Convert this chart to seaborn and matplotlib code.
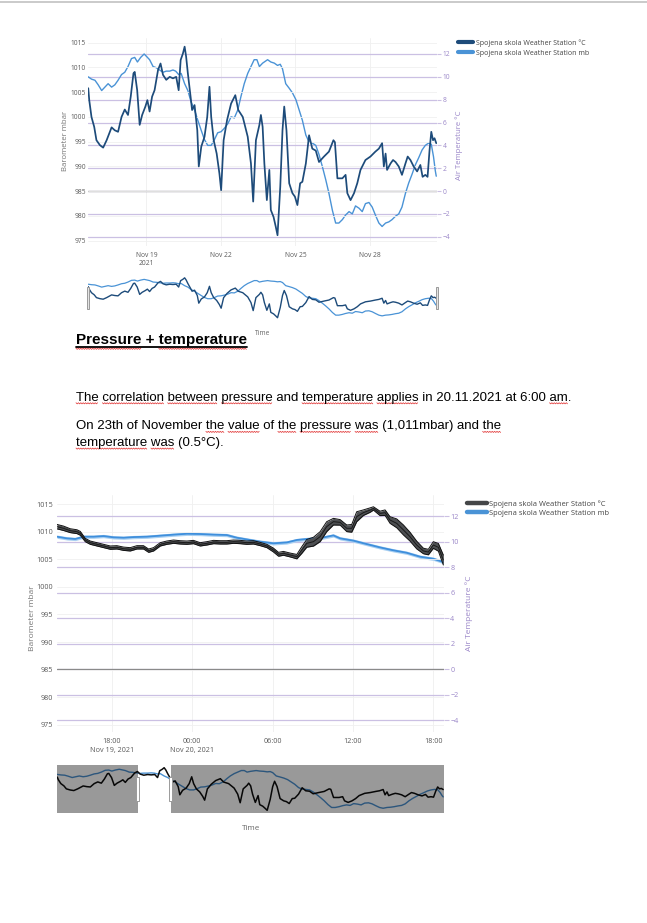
import numpy as np
import pandas as pd
import matplotlib
matplotlib.use("Agg")
import matplotlib.pyplot as plt
import matplotlib.transforms as mtransforms
import seaborn as sns
from matplotlib.lines import Line2D
from matplotlib.patches import Rectangle

# ---------------- data ----------------
# Chart 1 (Nov 16 - Nov 30, x = day of November)
dark_days = [16.66,16.70,16.79,16.90,16.99,17.13,17.26,17.40,17.60,17.73,17.86,18.00,18.13,18.26,18.37,18.48,18.53,18.63,18.73,18.83,
             18.96,19.04,19.13,19.23,19.33,19.47,19.57,19.67,19.80,19.94,20.07,20.20,20.30,20.38,20.47,20.54,20.60,20.67,20.78,20.84,
             20.94,21.05,21.11,21.21,21.34,21.45,21.54,21.61,21.71,21.83,21.94,22.01,22.11,22.25,22.41,22.58,22.70,22.88,23.08,23.21,
             23.30,23.41,23.55,23.61,23.68,23.75,23.85,23.95,24.01,24.12,24.21,24.28,24.39,24.48,24.55,24.64,24.75,24.88,24.98,25.08,
             25.19,25.28,25.42,25.55,25.68,25.82,25.95,26.15,26.35,26.53,26.59,26.69,26.89,27.02,27.09,27.22,27.36,27.49,27.62,27.82,
             28.02,28.22,28.36,28.49,28.56,28.63,28.69,28.83,28.93,29.03,29.16,29.29,29.43,29.52,29.63,29.76,29.90,30.03,30.12,30.23,
             30.32,30.40,30.47,30.54,30.60,30.67]
dark_mbar = [1005.8,1003.4,1000.0,998.0,995.3,994.3,993.8,995.3,997.9,997.3,997.0,1000.0,1001.5,1000.4,1004.1,1008.8,1009.1,1005.4,998.4,1000.4,
             1002.1,1003.4,1001.1,1004.1,1005.4,1009.5,1010.8,1008.5,1007.5,1008.1,1007.8,1008.1,1005.4,1011.5,1012.8,1014.2,1012.2,1008.8,1004.1,1001.4,
             1002.4,997.3,990.0,994.0,996.0,1000.0,1006.1,1000.0,995.3,992.6,988.6,985.2,995.3,999.4,1002.7,1004.4,1001.4,1000.0,996.0,990.6,
             982.9,995.3,998.4,1000.4,998.0,990.6,983.2,989.3,981.2,979.8,977.8,976.1,985.9,997.3,1002.1,997.3,986.6,984.6,983.9,982.2,
             986.6,986.9,990.6,996.3,993.6,993.2,990.9,992.0,993.0,995.3,994.9,987.6,987.6,988.3,984.6,983.2,984.6,986.6,989.3,991.3,
             992.0,993.0,993.6,994.7,990.0,992.6,989.3,990.6,991.3,990.9,990.0,988.3,990.6,992.0,991.3,990.0,989.0,990.3,987.9,988.3,
             987.9,993.3,997.0,995.3,995.7,994.7]
light_days = [16.66,16.79,16.93,17.06,17.20,17.33,17.46,17.60,17.73,17.86,18.00,18.13,18.26,18.40,18.53,18.64,18.77,18.91,19.00,19.13,
              19.27,19.40,19.53,19.67,19.80,19.94,20.07,20.18,20.30,20.40,20.54,20.67,20.80,20.94,21.07,21.21,21.34,21.47,21.61,21.74,
              21.87,22.01,22.14,22.28,22.41,22.54,22.68,22.81,22.94,23.08,23.21,23.34,23.45,23.55,23.68,23.88,24.01,24.15,24.28,24.39,
              24.48,24.61,24.75,24.88,25.02,25.15,25.28,25.42,25.55,25.68,25.82,25.95,26.09,26.22,26.35,26.49,26.62,26.75,26.89,27.02,
              27.16,27.29,27.42,27.56,27.69,27.82,27.96,28.09,28.22,28.36,28.49,28.63,28.76,28.89,29.03,29.16,29.29,29.43,29.56,29.70,
              29.83,29.96,30.10,30.23,30.36,30.47,30.56,30.63,30.67]
light_temp = [10.0,9.8,9.7,9.3,8.8,9.1,9.4,9.1,9.3,9.7,10.2,10.4,10.9,11.6,11.7,11.3,11.7,12.0,11.8,11.5,
              10.9,10.8,10.6,10.4,10.5,10.5,10.6,10.5,10.2,10.3,9.4,8.8,7.8,7.1,6.2,5.3,4.5,4.0,4.0,4.5,
              5.1,5.2,5.5,5.9,6.5,6.4,7.1,8.3,9.4,10.3,10.9,11.5,11.5,10.9,11.2,11.5,11.3,11.2,11.0,11.1,
              10.7,9.4,9.0,8.6,8.0,7.1,6.2,4.9,4.3,4.2,4.0,3.2,2.1,1.0,-0.2,-1.7,-2.8,-2.8,-2.5,-2.1,
              -1.8,-2.0,-1.3,-1.5,-1.8,-1.1,-1.0,-1.4,-2.1,-2.8,-3.1,-2.8,-2.7,-2.5,-2.2,-2.0,-1.4,-0.2,0.7,1.5,
              2.3,2.9,3.6,4.0,4.2,4.1,3.0,1.8,1.3]

# Chart 2 (zoom: hours since Nov 19 00:00)
zoom_hours = [13.90,14.39,14.89,15.39,15.64,16.01,16.38,16.88,17.38,17.88,18.37,18.87,19.37,19.87,20.36,20.74,21.11,21.61,22.10,22.60,
              23.10,23.60,24.09,24.59,25.09,25.59,26.08,26.58,27.08,27.58,28.07,28.57,29.07,29.57,30.06,30.44,30.81,31.31,31.81,32.18,
              32.55,33.05,33.55,34.04,34.54,35.04,35.54,35.91,36.28,36.78,37.28,37.53,38.02,38.40,38.77,39.27,39.77,40.26,40.76,41.26,
              41.63,42.00,42.38,42.75]
zoom_mbar = [1010.9,1010.6,1010.17,1009.99,1009.69,1008.48,1008.0,1007.7,1007.4,1007.1,1007.16,1006.9,1006.8,1007.16,1007.16,1006.55,1006.8,1007.7,1008.0,1008.18,
             1008.06,1008.0,1008.12,1007.7,1007.88,1008.12,1008.06,1008.06,1008.18,1008.12,1008.0,1008.06,1007.76,1007.4,1006.67,1005.9,1006.07,1005.77,1005.47,1006.67,
             1007.88,1008.18,1009.09,1010.9,1011.8,1011.68,1010.6,1010.6,1012.7,1013.43,1013.9,1014.2,1013.3,1013.43,1012.1,1011.5,1010.3,1009.09,1007.58,1006.5,
             1006.3,1007.58,1007.16,1004.86]
zoom_mbar_spread = [0.4,0.4,0.35,0.35,0.35,0.3,0.3,0.3,0.3,0.3,0.3,0.3,0.3,0.3,0.3,0.3,0.3,0.3,0.3,0.3,
                    0.3,0.3,0.3,0.3,0.3,0.3,0.3,0.3,0.3,0.3,0.3,0.3,0.3,0.3,0.35,0.35,0.35,0.35,0.4,0.6,
                    0.7,0.8,0.9,0.9,0.6,0.5,0.6,0.7,0.9,0.5,0.4,0.3,0.4,0.5,0.6,0.8,0.9,0.8,0.7,0.5,
                    0.5,0.6,0.7,0.9]
zoom_temp_hours = [13.90,14.64,15.26,15.89,16.63,17.38,18.12,18.87,19.62,20.61,21.61,22.60,23.60,24.59,25.59,26.58,27.33,28.32,29.07,30.06,
                   31.06,31.81,32.55,33.55,34.54,35.04,36.03,37.03,38.02,39.02,40.01,41.01,42.00,42.75]
zoom_temp = [10.38,10.25,10.2,10.38,10.38,10.43,10.33,10.3,10.35,10.38,10.46,10.54,10.61,10.59,10.54,10.51,10.3,10.12,9.99,9.86,
             9.93,10.12,10.2,10.27,10.48,10.25,10.07,9.8,9.54,9.31,9.12,8.81,8.65,8.39]

left_ticks = [975, 980, 985, 990, 995, 1000, 1005, 1010, 1015]
right_ticks = [-4, -2, 0, 2, 4, 6, 8, 10, 12]
right_ticklabels = ["\u22124", "\u22122", "0", "2", "4", "6", "8", "10", "12"]
c1_xticks = [19, 22, 25, 28]
c1_xticklabels = ["Nov 19\n2021", "Nov 22", "Nov 25", "Nov 28"]
c2_xticks = [18, 24, 30, 36, 42]
c2_xticklabels = ["18:00\nNov 19, 2021", "00:00\nNov 20, 2021", "06:00", "12:00", "18:00"]
legend_labels = ["Spojena skola Weather Station \u00b0C", "Spojena skola Weather Station mb"]

title_text = "Pressure + temperature"
para_lines = ["The correlation between pressure and temperature applies in 20.11.2021 at 6:00 am.",
              "On 23th of November the value of the pressure was (1,011mbar) and the",
              "temperature was (0.5\u00b0C)."]
title_marked = ["Pressure", "temperature"]
para_marked = [["The", "correlation", "between", "pressure", "temperature", "applies", "am"],
               ["the", "value", "the", "pressure", "was", "the"],
               ["temperature", "was"]]

# ---------------- style ----------------
sns.set_theme(style="white")
plt.rcParams['font.family'] = ['Open Sans', 'DejaVu Sans']

W, H = 647, 923
fig = plt.figure(figsize=(W / 100, H / 100), dpi=100)
renderer = fig.canvas.get_renderer()

def R(x0, y0, x1, y1):
    return [x0 / W, 1 - y1 / H, (x1 - x0) / W, (y1 - y0) / H]

def fx(x):
    return x / W

def fy(y):
    return 1 - y / H

PGRID = "#cbc0e3"
PTXT = "#9a86c8"
GTXT = "#5a5a5a"
DARK1 = "#1d4b7a"
LIGHT1 = "#4a93d6"

# top page line
fig.add_artist(Line2D([0, 1], [fy(1.5), fy(1.5)], color="#c6c6c6", lw=1.3, transform=fig.transFigure))


def main_panel(rect, xlim, ylim_l, ylim_r, xticks, xticklabels, fs, lpad, tlen):
    axr = fig.add_axes(rect)
    axr.set_xlim(xlim)
    axr.set_ylim(ylim_r)
    axr.yaxis.tick_right()
    axr.set_yticks(right_ticks)
    axr.set_yticklabels(right_ticklabels)
    axr.set_xticks(xticks)
    axr.set_xticklabels(xticklabels)
    axr.grid(axis='y', color=PGRID, lw=0.9)
    axr.grid(axis='x', color="#efefef", lw=0.6)
    axr.axhline(0, color="#8a8a8a", lw=0.9, zorder=1.5)
    axr.tick_params(axis='y', length=tlen, width=0.8, color=PGRID, labelcolor=PTXT, labelsize=fs, pad=1, right=True)
    axr.tick_params(axis='x', length=0, labelcolor=GTXT, labelsize=fs, pad=4)
    for s in axr.spines.values():
        s.set_visible(False)
    axl = fig.add_axes(rect)
    axl.patch.set_visible(False)
    axl.set_xlim(xlim)
    axl.set_ylim(ylim_l)
    axl.set_yticks(left_ticks)
    axl.set_xticks([])
    axl.grid(axis='y', color="#f0f0f0", lw=0.6)
    axl.tick_params(axis='y', length=0, labelcolor=GTXT, labelsize=fs, pad=lpad, left=True)
    for s in axl.spines.values():
        s.set_visible(False)
    return axl, axr


def slider_panel(rect, xlim, ylim_l, ylim_r):
    a_r = fig.add_axes(rect)
    a_l = fig.add_axes(rect)
    for a in (a_r, a_l):
        a.set_xlim(xlim)
        a.set_xticks([])
        a.set_yticks([])
        a.patch.set_visible(False)
        for s in a.spines.values():
            s.set_visible(False)
    a_l.set_ylim(ylim_l)
    a_r.set_ylim(ylim_r)
    return a_l, a_r


def handle(ax, x, face, edge, halfw):
    tr = mtransforms.blended_transform_factory(ax.transData, ax.transAxes)
    ax.add_patch(Rectangle((x - halfw, 0.243), 2 * halfw, 0.514, transform=tr,
                           facecolor=face, edgecolor=edge, lw=0.7, zorder=10, clip_on=False))

# ---------------- chart 1 ----------------
xlim1 = (16.65, 30.70)
ylim1_l = (973.93, 1015.95)
ylim1_r = (-4.81, 13.40)
axl1, axr1 = main_panel(R(88, 38, 437, 246), xlim1, ylim1_l, ylim1_r, c1_xticks, c1_xticklabels, 4.8, 1.5, 3)
sns.lineplot(x=light_days, y=light_temp, ax=axr1, color=LIGHT1, linewidth=1.0, legend=False, zorder=3)
sns.lineplot(x=dark_days, y=dark_mbar, ax=axl1, color=DARK1, linewidth=1.25, legend=False, zorder=4)
for t in axr1.get_xticklabels():
    t.set_linespacing(1.35)

fig.text(fx(65.5), fy(141), "Barometer mbar", rotation=90, ha='center', va='center', fontsize=5.6, color="#777777")
fig.text(fx(459), fy(145), "Air Temperature \u00b0C", rotation=90, ha='center', va='center', fontsize=5.6, color=PTXT)

h1 = [Line2D([], [], color=DARK1, lw=3), Line2D([], [], color=LIGHT1, lw=3)]
fig.legend(h1, legend_labels, loc='upper left', bbox_to_anchor=(fx(457.5), fy(39)), frameon=False,
           fontsize=5.0, handlelength=2.2, handletextpad=0.4, labelspacing=0.45, borderaxespad=0, borderpad=0,
           labelcolor="#444444")

sl1_l, sl1_r = slider_panel(R(88, 276, 437, 320), xlim1, ylim1_l, ylim1_r)
sns.lineplot(x=light_days, y=light_temp, ax=sl1_r, color=LIGHT1, linewidth=0.9, legend=False)
sns.lineplot(x=dark_days, y=dark_mbar, ax=sl1_l, color=DARK1, linewidth=1.0, legend=False)
handle(sl1_l, xlim1[0], "#e4e4e4", "#9a9a9a", 0.05)
handle(sl1_l, xlim1[1], "#e4e4e4", "#9a9a9a", 0.05)
fig.text(fx(262.5), fy(334), "Time", ha='center', va='center', fontsize=4.8, color="#666666")

# ---------------- document text ----------------
doc_font = ['Liberation Sans', 'DejaVu Sans']

def text_width(s, fs, weight='normal'):
    if not s:
        return 0.0
    t = fig.text(0, 0, s, fontsize=fs, family=doc_font, fontweight=weight)
    w = t.get_window_extent(renderer).width
    t.remove()
    return w

def squiggle(text, x0, base, fs, words, weight='normal', dy=2.6):
    pos = 0
    for wd in words:
        i = text.find(wd, pos)
        pos = i + len(wd)
        xa = x0 + text_width(text[:i], fs, weight)
        xb = x0 + text_width(text[:i + len(wd)], fs, weight)
        xs = np.arange(xa, xb + 0.01, 1.2)
        ys = base + dy + np.where(np.arange(len(xs)) % 2 == 0, -0.55, 0.55)
        fig.add_artist(Line2D(xs / W, 1 - ys / H, color="#e23b3b", lw=0.55, transform=fig.transFigure))

title_fs = 11.0
fig.text(fx(76), fy(344), title_text, fontsize=title_fs, fontweight='bold', family=doc_font,
         va='baseline', ha='left', color='black')
tw = text_width(title_text, title_fs, 'bold')
fig.add_artist(Line2D([fx(76), fx(76 + tw)], [fy(346.8), fy(346.8)], color='black', lw=1.3, transform=fig.transFigure))
squiggle(title_text, 76, 344, title_fs, title_marked, 'bold', dy=4.8)

para_fs = 9.5
for line, base, marked in zip(para_lines, [400.7, 429.3, 446.0], para_marked):
    fig.text(fx(76), fy(base), line, fontsize=para_fs, family=doc_font, va='baseline', ha='left', color='black')
    squiggle(line, 76, base, para_fs, marked)

# ---------------- chart 2 ----------------
xlim2 = (13.90, 42.80)
ylim2_l = (973.73, 1016.63)
ylim2_r = (-4.94, 13.65)
axl2, axr2 = main_panel(R(57, 495, 444, 732), xlim2, ylim2_l, ylim2_r, c2_xticks, c2_xticklabels, 5.2, 3, 3.5)
axr2.tick_params(axis='x', length=2, color="#cccccc", width=0.6, pad=2.5)
for t in axr2.get_xticklabels():
    t.set_linespacing(1.3)

zt = np.array(zoom_temp)
axr2.fill_between(zoom_temp_hours, zt - 0.13, zt + 0.13, color="#a9d0f2", lw=0, zorder=3)
sns.lineplot(x=zoom_temp_hours, y=zoom_temp, ax=axr2, color="#3f8fdc", linewidth=1.3, legend=False, zorder=4)

zm = np.array(zoom_mbar)
zs = np.array(zoom_mbar_spread)
axl2.fill_between(zoom_hours, zm - zs, zm + zs, color="#4d4f52", lw=0, zorder=3)
sns.lineplot(x=zoom_hours, y=zm - zs, ax=axl2, color="#111111", linewidth=0.7, legend=False, zorder=4)
sns.lineplot(x=zoom_hours, y=zm + zs, ax=axl2, color="#111111", linewidth=0.7, legend=False, zorder=4)
sns.lineplot(x=zoom_hours, y=zoom_mbar, ax=axl2, color="#1a1a1a", linewidth=0.7, legend=False, zorder=4)

fig.text(fx(32), fy(618), "Barometer mbar", rotation=90, ha='center', va='center', fontsize=6.0, color="#777777")
fig.text(fx(469), fy(613.5), "Air Temperature \u00b0C", rotation=90, ha='center', va='center', fontsize=6.0, color=PTXT)

h2 = [Line2D([], [], color="#444648", lw=3.2), Line2D([], [], color="#4a93d6", lw=3.2)]
fig.legend(h2, legend_labels, loc='upper left', bbox_to_anchor=(fx(467), fy(500)), frameon=False,
           fontsize=5.4, handlelength=2.6, handletextpad=0.3, labelspacing=0.25, borderaxespad=0, borderpad=0,
           labelcolor="#444444")

sl2_l, sl2_r = slider_panel(R(57, 765, 444, 813), xlim1, ylim2_l, ylim2_r)
sns.lineplot(x=light_days, y=light_temp, ax=sl2_r, color="#4a90d0", linewidth=1.0, legend=False)
sns.lineplot(x=dark_days, y=dark_mbar, ax=sl2_l, color="#0d0d0d", linewidth=1.1, legend=False)
win_lo = 19 + xlim2[0] / 24
win_hi = 19 + xlim2[1] / 24
sl2_l.axvspan(xlim1[0], win_lo, color="black", alpha=0.4, lw=0, zorder=8)
sl2_l.axvspan(win_hi, xlim1[1], color="black", alpha=0.4, lw=0, zorder=8)
handle(sl2_l, win_lo, "white", "#9a9a9a", 0.055)
handle(sl2_l, win_hi, "white", "#9a9a9a", 0.055)
fig.text(fx(251), fy(829), "Time", ha='center', va='center', fontsize=5.8, color="#666666")

fig.savefig("out.png", dpi=100)
